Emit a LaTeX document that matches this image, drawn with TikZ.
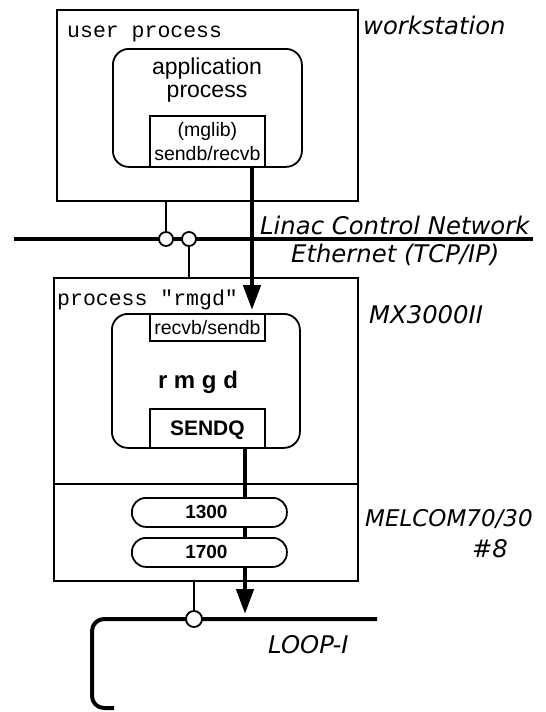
\documentclass[tikz,border=0pt]{standalone}
\usepackage{fontspec}
\setmainfont{Liberation Sans}
\newfontfamily\twfont{Liberation Mono}
\newfontfamily\labfont{DejaVu Sans}
\usetikzlibrary{arrows.meta,calc}
\begin{document}
\begin{tikzpicture}[x=1pt,y=-1pt,
  box/.style={draw, line width=1.8pt, inner sep=0pt, anchor=north west},
  rbox/.style={box, rounded corners=16pt},
  pill/.style={box, fill=white, rounded corners=14pt},
  tw/.style={font=\twfont\fontsize{21.5}{24}\selectfont, inner sep=0pt, anchor=base west},
  lab/.style={font=\labfont\itshape\fontsize{24.3}{26}\selectfont, inner sep=0pt, anchor=base west},
  hv/.style={font=\fontsize{19.5}{24}\selectfont, inner sep=0pt, align=center},
  hvb/.style={font=\bfseries\fontsize{19.5}{24}\selectfont, inner sep=0pt, align=center},
  thickline/.style={line width=4pt},
  thinline/.style={line width=1.8pt},
  arr/.style={line width=4.5pt, -{Triangle[width=17pt,length=25pt]}},
  circ/.style={circle, draw, fill=white, line width=1.8pt, minimum size=14pt, inner sep=0pt}
]
\useasboundingbox (0,0) rectangle (546,712);

% workstation
\node[box, minimum width=301pt, minimum height=191pt] (ws) at (56,9) {};
\node[rbox, minimum width=189pt, minimum height=118pt] (app) at (112,48) {};
\node[box, minimum width=115pt, minimum height=51pt] (mglib) at (149,115) {};
\node[font=\fontsize{23}{23}\selectfont, inner sep=0pt, align=center] (apptxt) at (207,80) {application\\process};
\node[hv] (mgtxt) at (mglib.center) {(mglib)\\sendb/recvb};
\node[tw] (up) at (67,37) {user process};
\node[lab] (wst) at (363,34) {workstation};

% MX3000II
\node[box, minimum width=304pt, minimum height=206pt] (mx) at (53,277) {};
\node[box, minimum width=304pt, minimum height=97pt] (mel) at (53,483) {};
\node[rbox, minimum width=188pt, minimum height=134pt] (rmgd) at (111,313) {};
\node[box, minimum width=115pt, minimum height=27pt] (recv) at (149,313) {};
\node[box, minimum width=115pt, minimum height=39pt] (sendq) at (149,408) {};
\node[hv] (recvtxt) at (recv.center) {recvb/sendb};
\node[hvb, font=\bfseries\fontsize{24}{24}\selectfont, anchor=base] (rmgdtxt) at (198,388) {r m g d};
\node[hvb, font=\bfseries\fontsize{21}{24}\selectfont] (sendqtxt) at ($(sendq.center)+(0,2)$) {SENDQ};
\node[tw] (pr) at (57,305) {process "rmgd"};
\node[lab] (mxt) at (369,323) {MX3000II};

% Ethernet
\coordinate (eL) at (14,239);
\coordinate (eR) at (533,239);
\draw[thickline] (eL) -- (eR);
\node[circ] (c1) at (166,239) {};
\node[circ] (c2) at (189,239) {};
\draw[thinline] (ws.south -| c1) -- (c1.north);
\draw[thinline] (c2.south) -- (mx.north -| c2);
\node[lab] (linac) at (260,234) {Linac Control Network};
\node[lab] (eth) at (291,262) {Ethernet (TCP/IP)};

% arrows
\coordinate (a1) at (252,310);
\draw[arr] (mglib.south -| a1) -- (a1);
\coordinate (a2) at (245,614);
\draw[arr] (sendq.south -| a2) -- (a2);

% pills
\node[pill, minimum width=155pt, minimum height=29pt] (p1) at (131,497) {};
\node[pill, minimum width=155pt, minimum height=29pt] (p2) at (131,537) {};
\node[hvb, font=\bfseries\fontsize{19}{24}\selectfont] (p1t) at ($(p1.center)+(-3,0)$) {1300};
\node[hvb, font=\bfseries\fontsize{19}{24}\selectfont] (p2t) at ($(p2.center)+(-3,0)$) {1700};
\node[lab, font=\labfont\itshape\fontsize{23}{26}\selectfont] (melt) at (365,526) {MELCOM70/30};
\node[lab, anchor=base] (n8) at (490,557) {\#8};

% loop
\coordinate (lR) at (377,619);
\coordinate (lA) at (92,619);
\coordinate (lB) at (92,708);
\coordinate (lE) at (114,708);
\draw[thickline, rounded corners=12pt] (lR) -- (lA) -- (lB) -- (lE);
\node[circ, minimum size=16pt] (c3) at (194,619) {};
\draw[thinline] (mel.south -| c3) -- (c3.north);
\node[lab] (loop) at (268,653) {LOOP-I};
\end{tikzpicture}
\end{document}
